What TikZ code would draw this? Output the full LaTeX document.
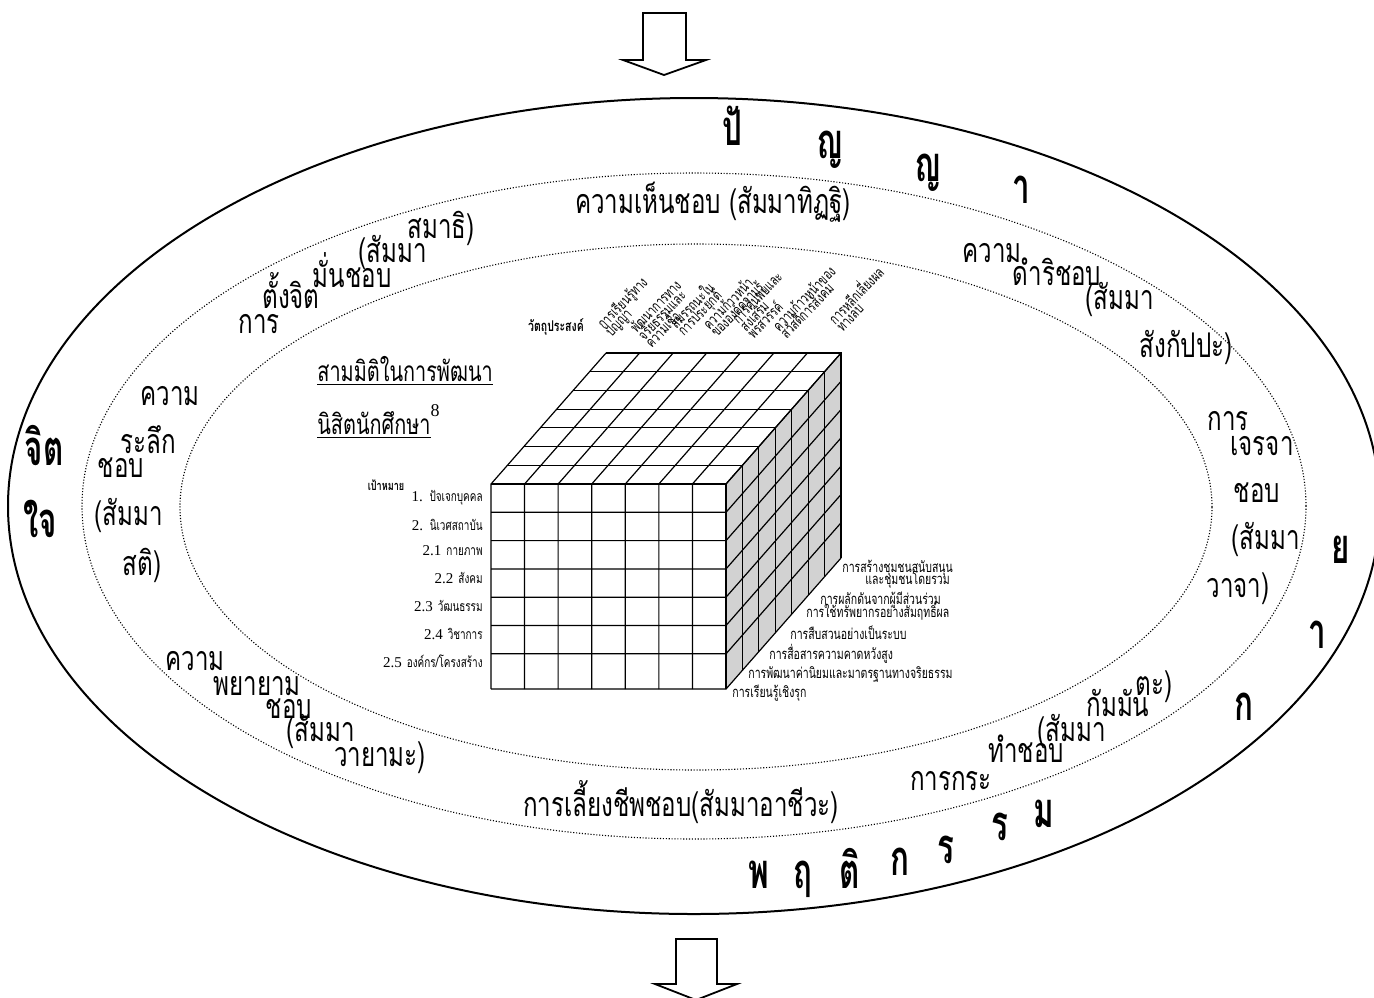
\documentclass[tikz,border=0pt]{standalone}
\usepackage{fontspec}
\setmainfont{Liberation Serif}
\newfontfamily\thai[Script=Thai,FakeStretch=0.71]{Loma}
\newfontfamily\thaic[Script=Thai,FakeStretch=0.64]{Loma}
\newcommand\mytightlines{\lineskiplimit=-20pt\relax\lineskip=0pt\relax}
\begin{document}
\begin{tikzpicture}[x=0.5pt,y=-0.5pt,
  ring/.style={font=\thai\fontsize{17}{20}\selectfont, inner sep=0pt, anchor=base},
  ttl/.style={font=\thai\fontsize{14}{17}\selectfont, inner sep=0pt, anchor=base west},
  bigl/.style={font=\thaic\bfseries\fontsize{24.5}{28}\selectfont, inner sep=0pt, anchor=base},
  toplab/.style={font=\thai\fontsize{7.4}{5.3}\selectfont\mytightlines, inner sep=0pt, align=left, rotate=46, anchor=south west},
  rowlab/.style={inner sep=0pt, anchor=base east},
  facelab/.style={font=\thai\fontsize{7.4}{6}\selectfont, inner sep=0pt, anchor=base west},
  cubeline/.style={line width=0.6pt, line join=miter},
  dotell/.style={line width=0.55pt, dash pattern=on 0.55pt off 0.9pt},
  bigarrow/.style={line width=0.9pt, fill=white, line join=miter}
]
\useasboundingbox (0,0) rectangle (1374,997);
\fill[white] (0,0) rectangle (1374,997);

% ellipses
\draw[line width=1pt] (694,506) ellipse [x radius=343pt, y radius=204pt];
\draw[dotell] (694,506) ellipse [x radius=306pt, y radius=166.5pt];
\draw[dotell] (696,507) ellipse [x radius=258pt, y radius=131.5pt];

% arrows
\draw[bigarrow] (643,13) -- (643,60) -- (623,60) -- (664,75) -- (706,60) -- (686,60) -- (686,13) -- cycle;
\draw[bigarrow] (676,939) -- (676,984) -- (655,984) -- (696,1000) -- (737,984) -- (717,984) -- (717,939) -- cycle;

% cube
\def\dx{16.43}\def\dy{-18.71}
\fill[gray!35] (726,484) -- (726,689) -- (841,558) -- (841,353) -- cycle;
\foreach \yy in {484,512.3,540.6,568.9,597.2,625.5,653.8,689}{
  \draw[cubeline] (491,\yy) -- (726,\yy) -- ++(115,-131);
}
\foreach \i in {0,...,7}{
  \draw[cubeline] (491+\i*33.57,689) -- (491+\i*33.57,484) -- ++(115,-131);
  \draw[cubeline] (491+\i*\dx,484+\i*\dy) -- (726+\i*\dx,484+\i*\dy) -- (726+\i*\dx,689+\i*\dy);
}

% titles
\node[ttl] (t1) at (317,381) {\underline{สามมิติในการพัฒนา}};
\node[ttl] (t2) at (317,434) {\underline{นิสิตนักศึกษา}\raisebox{1.2ex}{\fontsize{9}{10}\selectfont\rmfamily 8}};

% cube labels
\node[font=\thai\bfseries\fontsize{7.4}{8}\selectfont, inner sep=0pt, anchor=base] (obj) at (556,331) {วัตถุประสงค์};
\node[font=\thai\bfseries\fontsize{6.4}{8}\selectfont, inner sep=0pt, anchor=base] (goal) at (386,490) {เป้าหมาย};

\node[rowlab] (r1) at (483,501) {{\fontsize{7.5}{8}\selectfont 1.} {\thai\fontsize{7}{8}\selectfont ปัจเจกบุคคล}};
\node[rowlab] (r2) at (483,530) {{\fontsize{7.5}{8}\selectfont 2.} {\thai\fontsize{7}{8}\selectfont นิเวศสถาบัน}};
\node[rowlab] (r3) at (483,555) {{\fontsize{7.5}{8}\selectfont 2.1} {\thai\fontsize{7}{8}\selectfont กายภาพ}};
\node[rowlab] (r4) at (483,583) {{\fontsize{7.5}{8}\selectfont 2.2} {\thai\fontsize{7}{8}\selectfont สังคม}};
\node[rowlab] (r5) at (483,611) {{\fontsize{7.5}{8}\selectfont 2.3} {\thai\fontsize{7}{8}\selectfont วัฒนธรรม}};
\node[rowlab] (r6) at (483,639) {{\fontsize{7.5}{8}\selectfont 2.4} {\thai\fontsize{7}{8}\selectfont วิชาการ}};
\node[rowlab] (r7) at (483,667) {{\fontsize{7.5}{8}\selectfont 2.5} {\thai\fontsize{7}{8}\selectfont องค์กร/โครงสร้าง}};

\node[facelab] (f1) at (842,572) {การสร้างชุมชนสนับสนุน};
\node[facelab] (f2) at (865,584) {และชุมชนโดยรวม};
\node[facelab] (f3) at (820,604) {การผลักดันจากผู้มีส่วนร่วม};
\node[facelab] (f4) at (806,617) {การใช้ทรัพยากรอย่างสัมฤทธิ์ผล};
\node[facelab] (f5) at (790,639) {การสืบสวนอย่างเป็นระบบ};
\node[facelab] (f6) at (769,659) {การสื่อสารความคาดหวังสูง};
\node[facelab] (f7) at (748,678) {การพัฒนาค่านิยมและมาตรฐานทางจริยธรรม};
\node[facelab] (f8) at (732,697) {การเรียนรู้เชิงรุก};

\node[toplab] (o1) at (614,340) {การเรียนรู้ทาง\\ปัญญา};
\node[toplab] (o2) at (652,349) {พัฒนาการทาง\\จริยธรรมและ\\ความเชื่อ};
\node[toplab] (o3) at (687,340) {สมรรถนะใน\\การประยุกต์};
\node[toplab] (o4) at (720,341) {ความก้าวหน้า\\ขององค์ความรู้};
\node[toplab] (o5) at (754,340) {การค้นพบและ\\ส่งเสริม\\พรสวรรค์};
\node[toplab] (o6) at (787,340) {ความก้าวหน้าของ\\สวัสดิการสังคม};
\node[toplab] (o7) at (843,333) {การหลีกเลี่ยงผล\\ทางลบ};

% ring texts
\node[ring] (a1) at (259,333) {การ};
\node[ring] (a2) at (291,308) {ตั้งจิต};
\node[ring] (a3) at (352,287) {มั่นชอบ};
\node[ring] (a4) at (393,262) {(สัมมา};
\node[ring] (a5) at (441,238) {สมาธิ)};

\node[ring] (b1) at (170,405) {ความ};
\node[ring] (b2) at (148,453) {ระลึก};
\node[ring] (b3) at (121,477) {ชอบ};
\node[ring] (b4) at (129,525) {(สัมมา};
\node[ring] (b5) at (142,575) {สติ)};

\node[ring] (c1) at (195,670) {ความ};
\node[ring] (c2) at (257,695) {พยายาม};
\node[ring] (c3) at (289,718) {ชอบ};
\node[ring] (c4) at (321,741) {(สัมมา};
\node[ring] (c5) at (380,766) {วายามะ)};

\node[ring] (d1) at (713,213) {ความเห็นชอบ (สัมมาทิฏฐิ)};

\node[ring] (e1) at (992,262) {ความ};
\node[ring] (e2) at (1057,285) {ดำริชอบ};
\node[ring] (e3) at (1120,309) {(สัมมา};
\node[ring] (e4) at (1186,357) {สังกัปปะ)};

\node[ring] (g1) at (1228,430) {การ};
\node[ring] (g2) at (1262,455) {เจรจา};
\node[ring] (g3) at (1257,502) {ชอบ};
\node[ring] (g4) at (1266,549) {(สัมมา};
\node[ring] (g5) at (1238,597) {วาจา)};

\node[ring] (h1) at (1154,695) {ตะ)};
\node[ring] (h2) at (1118,716) {กัมมัน};
\node[ring] (h3) at (1072,741) {(สัมมา};
\node[ring] (h4) at (1026,762) {ทำชอบ};
\node[ring] (h5) at (951,790) {การกระ};

\node[ring] (k1) at (681,816) {การเลี้ยงชีพชอบ(สัมมาอาชีวะ)};

% big bold letters
\node[bigl] (p1) at (732,145) {ปั};
\node[bigl] (p2) at (830,158) {ญ};
\node[bigl] (p3) at (928,181) {ญ};
\node[bigl] (p4) at (1021,203) {า};
\node[bigl] (j1) at (44,465) {จิต};
\node[bigl] (j2) at (40,537) {ใจ};
\node[bigl] (y1) at (1341,563) {ย};
\node[bigl] (y2) at (1317,648) {า};
\node[bigl] (y3) at (1244,720) {ก};
\node[bigl] (m1) at (759,888) {พ};
\node[bigl] (m2) at (803,888) {ฤ};
\node[bigl] (m3) at (850,888) {ติ};
\node[bigl] (m4) at (900,875) {ก};
\node[bigl] (m5) at (946,863) {ร};
\node[bigl] (m6) at (1000,840) {ร};
\node[bigl] (m7) at (1044,827) {ม};
\end{tikzpicture}
\end{document}
